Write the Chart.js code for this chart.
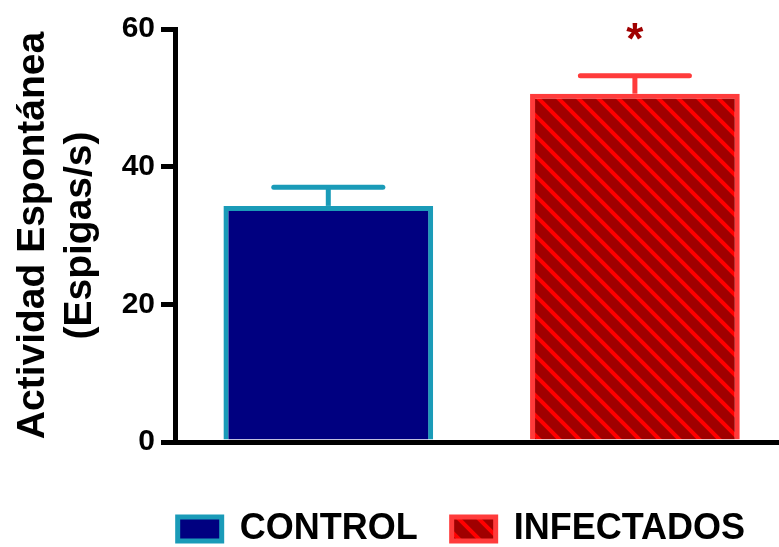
<!DOCTYPE html>
<html>
<head>
<meta charset="utf-8">
<script src="https://cdn.jsdelivr.net/npm/chart.js@4.4.1/dist/chart.umd.min.js"></script>
<style>
  html, body { margin: 0; padding: 0; background: #fff; overflow: hidden; }
  #chart { display: block; }
</style>
</head>
<body>
<canvas id="chart" width="779" height="547"></canvas>
<script>
// Data
const categories = ['CONTROL', 'INFECTADOS'];
const means = [34.3, 50.6];
const sems = [2.7, 2.6];
const marks = ['', '*'];
const markValue = 59;
const yTicks = [0, 20, 40, 60];

const fillColors = ['#000080', '#a00000'];
const borderColors = ['#1a9bb8', '#ff3b3b'];
const stripeColor = '#ff0000';

const FONT = '"Liberation Sans", Arial, sans-serif';

// Diagonal hatch pattern for the infected group
function makeStripes(bg, fg) {
  const size = 20;
  const c = document.createElement('canvas');
  c.width = size; c.height = size;
  const g = c.getContext('2d');
  g.fillStyle = bg;
  g.fillRect(0, 0, size, size);
  g.strokeStyle = fg;
  g.lineWidth = 4;
  g.beginPath();
  g.moveTo(-size, -size); g.lineTo(size * 2, size * 2);
  g.moveTo(0, -size); g.lineTo(size * 2, size);
  g.moveTo(-size, 0); g.lineTo(size, size * 2);
  g.stroke();
  return g.createPattern(c, 'repeat');
}

const fills = [fillColors[0], makeStripes(fillColors[1], stripeColor)];

// Error bars + significance marks
const errorBars = {
  id: 'errorBars',
  afterDatasetsDraw(chart) {
    const ctx = chart.ctx;
    const y = chart.scales.y;
    chart.data.datasets.forEach((ds, i) => {
      const bar = chart.getDatasetMeta(i).data[0];
      if (!bar) return;
      const top = y.getPixelForValue(means[i]);
      const cap = y.getPixelForValue(means[i] + sems[i]);
      const half = bar.width * 0.26;
      ctx.save();
      ctx.strokeStyle = borderColors[i];
      ctx.lineWidth = 5;
      ctx.beginPath();
      ctx.moveTo(bar.x, top);
      ctx.lineTo(bar.x, cap);
      ctx.stroke();
      ctx.lineCap = 'round';
      ctx.beginPath();
      ctx.moveTo(bar.x - half, cap);
      ctx.lineTo(bar.x + half, cap);
      ctx.stroke();
      if (marks[i]) {
        ctx.fillStyle = fillColors[i];
        ctx.font = 'bold 44px ' + FONT;
        ctx.textAlign = 'center';
        ctx.textBaseline = 'middle';
        ctx.fillText(marks[i], bar.x, y.getPixelForValue(markValue) + 6);
      }
      ctx.restore();
    });
  }
};

new Chart(document.getElementById('chart'), {
  type: 'bar',
  data: {
    datasets: categories.map((name, i) => ({
      label: name,
      data: [{ x: i, y: means[i] }],
      backgroundColor: fills[i],
      borderColor: borderColors[i],
      borderWidth: 5,
      borderSkipped: 'bottom',
      categoryPercentage: 1,
      barPercentage: 0.684
    }))
  },
  options: {
    responsive: false,
    animation: false,
    datasets: { bar: { grouped: false } },
    layout: { padding: { top: 29, right: 0, left: 0, bottom: -10 } },
    plugins: {
      tooltip: { enabled: false },
      legend: {
        position: 'bottom',
        align: 'end',
        labels: {
          color: '#000',
          boxWidth: 44,
          boxHeight: 24,
          padding: 34,
          font: { family: FONT, size: 36, weight: 'bold' }
        }
      }
    },
    scales: {
      x: {
        type: 'linear',
        offset: false,
        min: -0.5,
        max: 1.47,
        afterBuildTicks(scale) {
          scale.ticks = categories.map((c, i) => ({ value: i }));
        },
        afterFit(scale) {
          scale.height += 27;
        },
        ticks: { display: false },
        grid: { display: false },
        border: { color: '#000', width: 5 }
      },
      y: {
        min: 0,
        max: 60,
        afterBuildTicks(scale) {
          scale.ticks = yTicks.map(v => ({ value: v }));
        },
        afterFit(scale) {
          scale.width = 175;
        },
        ticks: {
          color: '#000',
          padding: 6,
          font: { family: FONT, size: 30, weight: 'bold' }
        },
        grid: {
          drawOnChartArea: false,
          color: '#000',
          lineWidth: 5,
          tickLength: 14
        },
        border: { color: '#000', width: 5 },
        title: {
          display: true,
          text: ['Actividad Espontánea', '(Espigas/s)'],
          color: '#000',
          padding: { top: 10, bottom: 0 },
          font: { family: FONT, size: 39, weight: 'bold', lineHeight: 1.2 }
        }
      }
    }
  },
  plugins: [errorBars]
});
</script>
</body>
</html>
